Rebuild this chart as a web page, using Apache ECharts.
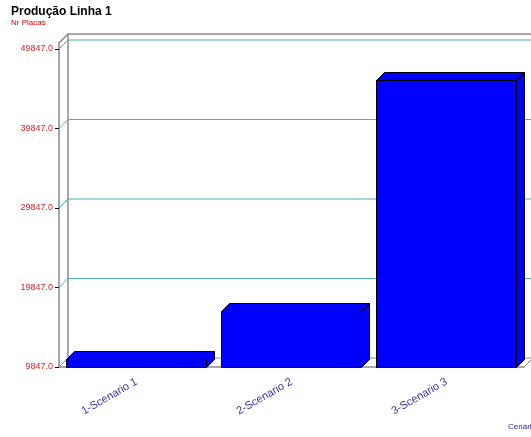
<!DOCTYPE html>
<html>
<head>
<meta charset="utf-8">
<script src="https://cdn.jsdelivr.net/npm/echarts@6/dist/echarts.min.js"></script>
<style>
  html, body { margin: 0; padding: 0; background: #ffffff; }
  #chart { width: 531px; height: 437px; }
</style>
</head>
<body>
<div id="chart"></div>
<script>
// Production per scenario (number of boards)
const categories = ['1-Scenario 1', '2-Scenario 2', '3-Scenario 3'];
const placas = [10880, 16870, 46000];
const yTicks = [9847, 19847, 29847, 39847, 49847];
const yMin = 9847;
const yMax = 50600;

const FONT = '"Liberation Sans", Arial, sans-serif';
const WALL_DEPTH = 9;   // offset of the back wall (px)
const BAR_DEPTH = 8;    // depth of each 3D bar (px)
const FRAME = '#8a8a8a';
const GRID = '#4fb0b0';

// Back wall, floor and the slanted grid lines
function renderWall(params, api) {
  const cs = params.coordSys;
  const x0 = cs.x, y0 = cs.y, w = cs.width, h = cs.height, D = WALL_DEPTH;
  const right = x0 + w + D + 40;
  const line = (pts, color, lw) => ({
    type: 'polyline', shape: { points: pts },
    style: { stroke: color, lineWidth: lw, fill: null }, silent: true
  });
  return {
    type: 'group',
    children: [
      line([[x0, y0], [x0 + D, y0 - D], [right, y0 - D]], FRAME, 1.5),
      line([[x0 + D, y0 - D], [x0 + D, y0 + h - D]], FRAME, 1.5),
      line([[x0, y0 + h], [x0 + D, y0 + h - D], [right, y0 + h - D]], FRAME, 1),
      line([[x0 + w, y0 + h], [x0 + w + D, y0 + h - D]], FRAME, 1)
    ]
  };
}

function renderGridLine(params, api) {
  const cs = params.coordSys;
  const x0 = cs.x, D = WALL_DEPTH;
  const y = api.coord([0, api.value(1)])[1];
  if (api.value(1) === yMin) return null;
  return {
    type: 'polyline',
    shape: { points: [[x0, y], [x0 + D, y - D], [cs.x + cs.width + D + 40, y - D]] },
    style: { stroke: GRID, lineWidth: 1, fill: null },
    silent: true
  };
}

function renderBar(params, api) {
  const idx = api.value(0);
  const top = api.coord([idx, api.value(1)]);
  const base = api.coord([idx, yMin]);
  const bw = api.size([1, 0])[0] * 0.905;
  const x1 = Math.round(top[0] - bw / 2) + 0.5;
  const x2 = x1 + Math.round(bw);
  const yt = Math.round(top[1]) + 0.5;
  const yb = Math.round(base[1]) + 0.5;
  const d = BAR_DEPTH;
  const style = { fill: '#0000ff', stroke: '#000000', lineWidth: 1 };
  return {
    type: 'group',
    children: [
      { type: 'polygon', shape: { points: [[x2, yt], [x2 + d, yt - d], [x2 + d, yb - d], [x2, yb]] }, style: style },
      { type: 'polygon', shape: { points: [[x1, yt], [x1 + d, yt - d], [x2 + d, yt - d], [x2, yt]] }, style: style },
      { type: 'rect', shape: { x: x1, y: yt, width: x2 - x1, height: yb - yt }, style: style }
    ]
  };
}

const chart = echarts.init(document.getElementById('chart'));
chart.setOption({
  animation: false,
  backgroundColor: '#ffffff',
  title: {
    text: 'Produção Linha 1',
    subtext: 'Nr Placas',
    left: 11,
    top: 6,
    itemGap: 1,
    padding: 0,
    textStyle: { fontFamily: FONT, fontSize: 12, fontWeight: 'bold', color: '#000000' },
    subtextStyle: { fontFamily: FONT, fontSize: 8, color: '#e00000' }
  },
  grid: { left: 59, right: 7, top: 43, bottom: 70, containLabel: false, outerBoundsMode: 'none' },
  xAxis: {
    type: 'category',
    data: categories,
    boundaryGap: true,
    name: 'Cenário',
    nameLocation: 'end',
    nameGap: -16,
    nameTextStyle: {
      fontFamily: FONT, fontSize: 8, color: '#2a2aa0',
      align: 'left', verticalAlign: 'top', padding: [56, 0, 0, 0]
    },
    axisLine: { lineStyle: { color: FRAME, width: 1.5 } },
    axisTick: { alignWithLabel: true, length: 4, lineStyle: { color: '#000000' } },
    axisLabel: {
      rotate: 30, margin: 14, interval: 0,
      fontFamily: FONT, fontSize: 11, color: '#3333aa'
    },
    splitLine: { show: false }
  },
  yAxis: {
    type: 'value',
    min: yMin,
    max: yMax,
    axisLine: { show: true, lineStyle: { color: FRAME, width: 1.5 } },
    axisTick: { show: true, customValues: yTicks, length: 4, lineStyle: { color: '#000000' } },
    axisLabel: {
      customValues: yTicks, margin: 6,
      fontFamily: FONT, fontSize: 9, color: '#e02020',
      formatter: v => Number(v).toFixed(1)
    },
    splitLine: { show: false }
  },
  series: [
    { type: 'custom', renderItem: renderWall, data: [[0, yMin]], z: 1, silent: true },
    { type: 'custom', renderItem: renderGridLine, data: yTicks.map(v => [0, v]), z: 2, silent: true },
    { type: 'custom', renderItem: renderBar, data: placas.map((v, i) => [i, v]), z: 3,
      encode: { x: 0, y: 1 } }
  ]
});
</script>
</body>
</html>
